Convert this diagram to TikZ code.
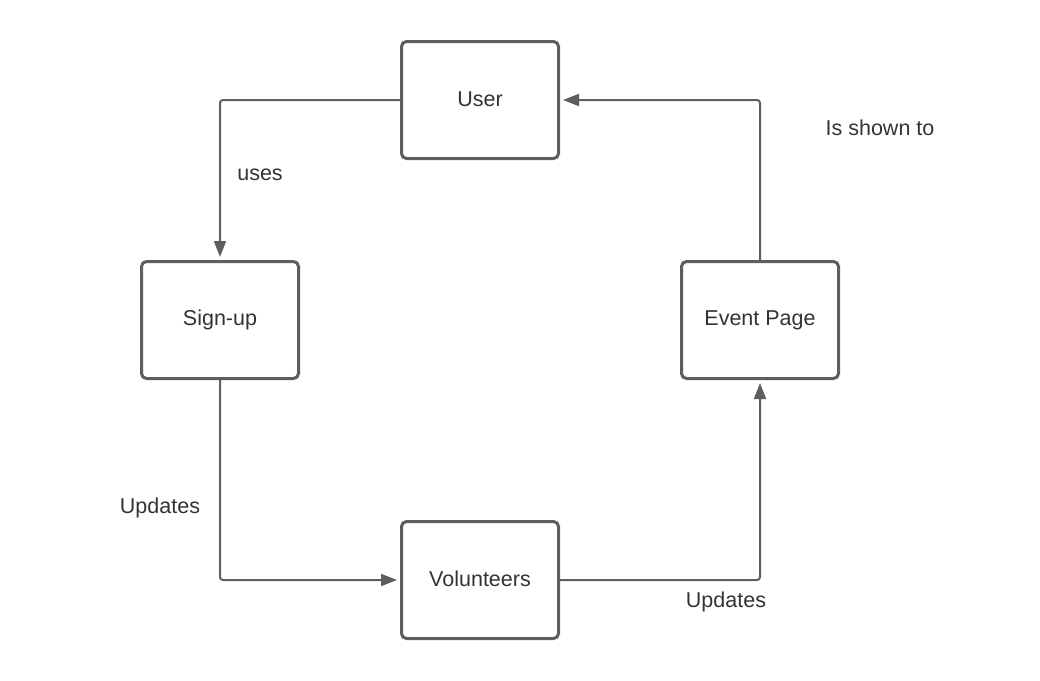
\documentclass[tikz,border=0pt]{standalone}
\usepackage{fontspec}
\setmainfont{Liberation Sans}
\usetikzlibrary{arrows.meta}
\definecolor{linegray}{HTML}{5E5E5E}
\definecolor{textgray}{HTML}{333333}
\newcommand{\boxtext}[1]{\raisebox{2.5pt}{#1}}
\begin{document}
\begin{tikzpicture}[x=1pt,y=-1pt,
  box/.style={draw=linegray,line width=3pt,rounded corners=5pt,minimum width=157pt,minimum height=117pt,inner sep=0pt,font=\fontsize{21.5}{25}\selectfont,text=textgray,fill=white},
  conn/.style={draw=linegray,line width=2pt,rounded corners=3pt,-{Triangle[length=16pt,width=12pt]},shorten >=3pt},
  lbl/.style={font=\fontsize{21.5}{25}\selectfont,text=textgray}]
\useasboundingbox (0,0) rectangle (1040,680);
\node[box] (user) at (480,100) {\boxtext{User}};
\node[box] (signup) at (220,320) {\boxtext{Sign-up}};
\node[box] (event) at (760,320) {\boxtext{Event Page}};
\node[box] (vol) at (480,580) {\boxtext{Volunteers}};
\coordinate (c1) at (220,100);
\coordinate (c2) at (220,580);
\coordinate (c3) at (760,580);
\coordinate (c4) at (760,100);
\draw[conn] (user.west) -- (c1) -- (signup.north);
\draw[conn] (signup.south) -- (c2) -- (vol.west);
\draw[conn] (vol.east) -- (c3) -- (event.south);
\draw[conn] (event.north) -- (c4) -- (user.east);
\node[lbl] (l1) at (260,175) {uses};
\node[lbl] (l2) at (160,508) {Updates};
\node[lbl] (l3) at (726,602) {Updates};
\node[lbl] (l4) at (880,128) {Is shown to};
\end{tikzpicture}
\end{document}
